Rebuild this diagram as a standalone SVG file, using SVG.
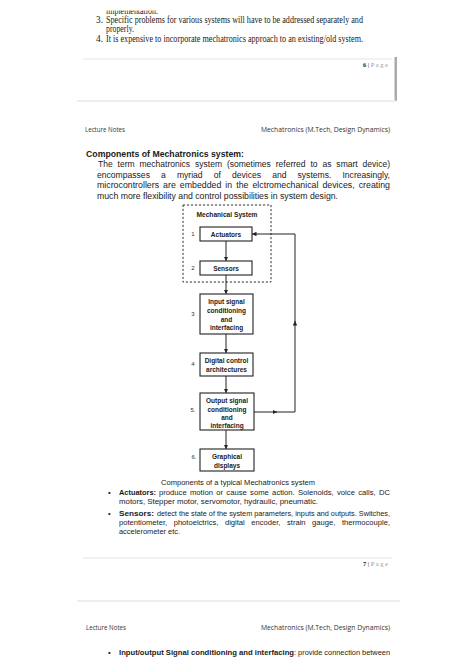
<svg xmlns="http://www.w3.org/2000/svg" width="474" height="670" viewBox="0 0 474 670">
<style>
.serif{font-family:"Liberation Serif","DejaVu Serif",serif;font-size:9.4px;fill:#1a1a1a}
.hdr{font-family:"Open Sans","Liberation Sans",sans-serif;font-size:6.8px;fill:#333}
.body{font-family:"Liberation Sans",Arial,sans-serif;font-size:8.4px;fill:#1a1a1a}
.bul{font-family:"Liberation Sans",Arial,sans-serif;font-size:7.7px;fill:#1a1a1a}
.b{font-weight:bold}
.box{fill:#fff;stroke:#222;stroke-width:1.1}
.lbl{font-family:"Liberation Sans",Arial,sans-serif;font-size:6.5px;font-weight:bold;fill:#222;text-anchor:middle}
.num{font-family:"Liberation Sans",Arial,sans-serif;font-size:6px;fill:#333;text-anchor:middle}
.pg{font-family:"Liberation Serif",serif;font-size:6.5px;fill:#999;text-anchor:end}
.rule{stroke:#e4e4e4;stroke-width:1}
.conn{stroke:#222;stroke-width:1;fill:none}
</style>
<defs>
<marker id="ah" viewBox="0 0 6 6" refX="6" refY="3" markerWidth="4.5" markerHeight="4.5" markerUnits="userSpaceOnUse" orient="auto">
<path d="M0,0 L6,3 L0,6 z" fill="#222"/>
</marker>
<clipPath id="cut"><rect x="0" y="10.5" width="474" height="20"/></clipPath>
</defs>
<rect width="474" height="670" fill="#fff"/>

<!-- page 6 tail -->
<g id="page6-text">
<text class="serif" x="106" y="14" clip-path="url(#cut)" textLength="52" lengthAdjust="spacingAndGlyphs">implementation.</text>
<text class="serif" x="96" y="23">3.</text>
<text class="serif" x="106" y="23" textLength="257" lengthAdjust="spacingAndGlyphs">Specific problems for various systems will have to be addressed separately and</text>
<text class="serif" x="106" y="32" textLength="28" lengthAdjust="spacingAndGlyphs">properly.</text>
<text class="serif" x="96" y="42">4.</text>
<text class="serif" x="106" y="42" textLength="257" lengthAdjust="spacingAndGlyphs">It is expensive to incorporate mechatronics approach to an existing/old system.</text>
</g>
<g id="page6-footer">
<line class="rule" x1="83" y1="59" x2="392" y2="59"/>
<text class="pg" x="388" y="67"><tspan fill="#222" font-weight="bold">6</tspan><tspan fill="#222"> | </tspan>P a g e</text>
<rect x="394.5" y="57" width="2.5" height="44" fill="#aaa"/>
<line x1="77" y1="101" x2="396" y2="101" stroke="#e8e8e8" stroke-width="1.5"/>
</g>

<!-- page 7 -->
<g id="page7-header">
<text class="hdr" x="85" y="132" textLength="40" lengthAdjust="spacingAndGlyphs">Lecture Notes</text>
<text class="hdr" x="390" y="132" text-anchor="end">Mechatronics (M.Tech, Design Dynamics)</text>
</g>
<g id="page7-text">
<text class="body b" x="86" y="157" font-size="8.8" textLength="158" lengthAdjust="spacingAndGlyphs">Components of Mechatronics system:</text>
<text class="body" x="98" y="167" word-spacing="2.5" textLength="292" lengthAdjust="spacingAndGlyphs">The term mechatronics system (sometimes referred to as smart device)</text>
<text class="body" x="97" y="177.5" word-spacing="8.5" textLength="293" lengthAdjust="spacingAndGlyphs">encompasses a myriad of devices and systems. Increasingly,</text>
<text class="body" x="97" y="188" word-spacing="1.5" textLength="293" lengthAdjust="spacingAndGlyphs">microcontrollers are embedded in the elctromechanical devices, creating</text>
<text class="body" x="97" y="199" textLength="241" lengthAdjust="spacingAndGlyphs">much more flexibility and control possibilities in system design.</text>
</g>

<!-- diagram -->
<g id="mechanical-system">
<rect x="183" y="205" width="88" height="77" fill="none" stroke="#333" stroke-width="1" stroke-dasharray="2.2,1.8"/>
<text class="lbl" x="227" y="217" textLength="61" lengthAdjust="spacingAndGlyphs">Mechanical System</text>
</g>
<g id="actuators">
<rect class="box" x="200" y="227" width="52" height="14"/>
<text class="lbl" x="226" y="236.5">Actuators</text>
<text class="num" x="193" y="236">1</text>
</g>
<g id="sensors">
<rect class="box" x="200" y="261" width="52" height="14"/>
<text class="lbl" x="226" y="270.5">Sensors</text>
<text class="num" x="193" y="270">2</text>
</g>
<g id="input">
<rect class="box" x="200" y="294" width="53" height="40"/>
<text class="lbl" x="226.5" y="304">Input signal</text>
<text class="lbl" x="226.5" y="313">conditioning</text>
<text class="lbl" x="226.5" y="321.5">and</text>
<text class="lbl" x="226.5" y="330">interfacing</text>
<text class="num" x="193" y="316">3</text>
</g>
<g id="digital">
<rect class="box" x="200" y="353" width="53" height="23"/>
<text class="lbl" x="226.5" y="363">Digital control</text>
<text class="lbl" x="226.5" y="372">architectures</text>
<text class="num" x="193" y="366">4</text>
</g>
<g id="output">
<rect class="box" x="200" y="393" width="54" height="37"/>
<text class="lbl" x="227" y="403">Output signal</text>
<text class="lbl" x="227" y="411.5">conditioning</text>
<text class="lbl" x="227" y="419.5">and</text>
<text class="lbl" x="227" y="427.5">interfacing</text>
<text class="num" x="193" y="412">5.</text>
</g>
<g id="graphical">
<rect class="box" x="200" y="449" width="54" height="22"/>
<text class="lbl" x="227" y="459">Graphical</text>
<text class="lbl" x="227" y="468">displays</text>
<text class="num" x="194" y="459">6.</text>
</g>
<g id="connectors">
<line class="conn" x1="226" y1="241" x2="226" y2="261" marker-end="url(#ah)"/>
<line class="conn" x1="226" y1="275" x2="226" y2="294" marker-end="url(#ah)"/>
<line class="conn" x1="226" y1="334" x2="226" y2="353" marker-end="url(#ah)"/>
<line class="conn" x1="226" y1="376" x2="226" y2="393" marker-end="url(#ah)"/>
<line class="conn" x1="226" y1="430" x2="226" y2="449" marker-end="url(#ah)"/>
<line class="conn" x1="254" y1="412" x2="277" y2="412" marker-end="url(#ah)"/>
<polyline class="conn" points="276,412 295,412 295,321" marker-end="url(#ah)"/>
<polyline class="conn" points="295,322 295,234 252,234" marker-end="url(#ah)"/>
</g>
<g id="caption-bullets">
<text class="bul" x="161" y="485" textLength="154" lengthAdjust="spacingAndGlyphs">Components of a typical Mechatronics system</text>
<text class="bul" x="108" y="495">•</text>
<text class="bul b" x="119" y="495" textLength="37" lengthAdjust="spacingAndGlyphs">Actuators:</text>
<text class="bul" x="159" y="495" word-spacing="1.2" textLength="231" lengthAdjust="spacingAndGlyphs">produce motion or cause some action. Solenoids, voice calls, DC</text>
<text class="bul" x="119" y="504" textLength="199" lengthAdjust="spacingAndGlyphs">motors, Stepper motor, servomotor, hydraulic, pneumatic.</text>
<text class="bul" x="108" y="516">•</text>
<text class="bul b" x="119" y="516" textLength="35" lengthAdjust="spacingAndGlyphs">Sensors:</text>
<text class="bul" x="157" y="516" textLength="233" lengthAdjust="spacingAndGlyphs">detect the state of the system parameters, inputs and outputs. Switches,</text>
<text class="bul" x="119" y="525" word-spacing="4.5" textLength="271" lengthAdjust="spacingAndGlyphs">potentiometer, photoelctrics, digital encoder, strain gauge, thermocouple,</text>
<text class="bul" x="119" y="533.5" textLength="61" lengthAdjust="spacingAndGlyphs">accelerometer etc.</text>
</g>
<g id="page7-footer">
<line class="rule" x1="83" y1="558" x2="392" y2="558"/>
<text class="pg" x="388" y="566"><tspan fill="#222" font-weight="bold">7</tspan><tspan fill="#222"> | </tspan>P a g e</text>
<line x1="77" y1="601" x2="400" y2="601" stroke="#e8e8e8" stroke-width="1.5"/>
</g>

<!-- page 8 -->
<g id="page8-header">
<text class="hdr" x="86" y="630" textLength="40" lengthAdjust="spacingAndGlyphs">Lecture Notes</text>
<text class="hdr" x="390" y="630" text-anchor="end">Mechatronics (M.Tech, Design Dynamics)</text>
</g>
<g id="page8-text">
<text class="bul" x="108" y="655">•</text>
<text class="bul b" x="119" y="655" textLength="175" lengthAdjust="spacingAndGlyphs">Input/output  Signal conditioning and interfacing</text>
<text class="bul" x="294" y="655" textLength="96" lengthAdjust="spacingAndGlyphs">: provide connection between</text>
</g>
</svg>
